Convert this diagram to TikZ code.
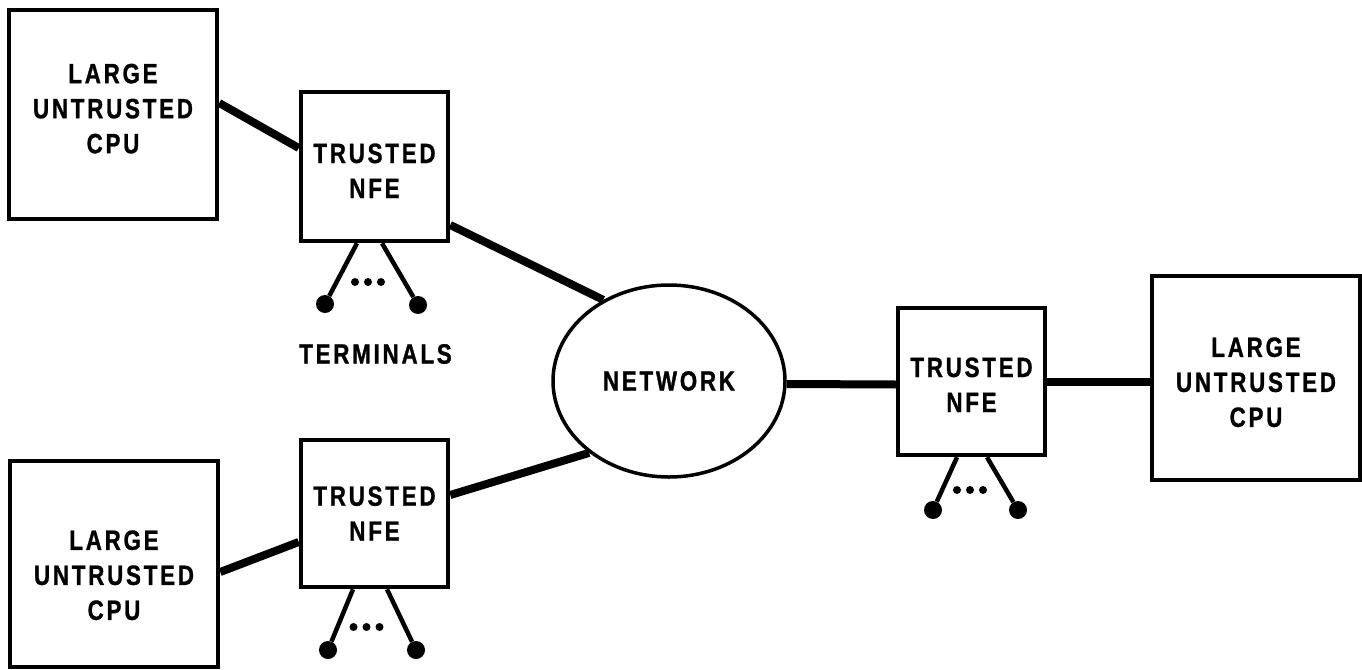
\documentclass[tikz,border=0pt]{standalone}
\usepackage{fontspec}
\newfontfamily\boxfont{Liberation Sans}[FakeStretch=0.8, LetterSpace=10, BoldFeatures={FakeBold=1}]
\usetikzlibrary{shapes,positioning}
\tikzset{
  basic/.style  = {draw, line width=4.5pt, align=center, inner sep=0pt,
                   font=\boxfont\bfseries\fontsize{27.9}{35}\selectfont},
  cpu/.style    = {basic, minimum width=208pt, minimum height=207pt},
  nfe/.style    = {basic, minimum width=147pt, minimum height=148pt},
  net/.style    = {basic, ellipse, line width=3.5pt, minimum width=232pt, minimum height=192pt},
  link/.style   = {line width=8pt},
  lead/.style   = {line width=4.5pt},
  term/.style   = {circle, fill, inner sep=0pt, minimum size=18pt},
  tag/.style    = {font=\boxfont\bfseries\fontsize{27.9}{35}\selectfont, inner sep=0pt}
}
% struts to nudge a block of lines down (first line) or up (last line)
\newcommand{\down}[1]{\rule{0pt}{#1}}
\newcommand{\up}[1]{\rule[-#1]{0pt}{#1}}

\begin{document}
\begin{tikzpicture}[x=1pt, y=-1pt]
\useasboundingbox (0,0) rectangle (1362,669);

% hosts and front ends
\node[cpu, minimum height=209pt] (cpu1) at (113,114.5)  {LARGE\\UNTRUSTED\\CPU\up{12pt}};
\node[cpu, minimum height=206pt] (cpu2) at (114,564)    {\down{42pt}LARGE\\UNTRUSTED\\CPU};
\node[cpu, minimum height=204pt] (cpu3) at (1256,378)   {\down{28pt}LARGE\\UNTRUSTED\\CPU};
\node[nfe, minimum height=149pt] (nfe1) at (374.5,166.5) {\down{28pt}TRUSTED\\NFE};
\node[nfe, minimum height=147pt] (nfe2) at (374.5,513.5) {TRUSTED\\NFE};
\node[nfe, minimum height=147pt] (nfe3) at (971.5,381.5) {\down{26pt}TRUSTED\\NFE};
\node[net] (net) at (669,381) {NETWORK};

% heavy links
\draw[link] ([yshift=11.5pt]cpu1.east) -- ([yshift=18.5pt]nfe1.west);
\draw[link] ([yshift=-58.5pt]nfe1.east) -- (net.129);
\draw[link] ([yshift=-8pt]cpu2.east) -- ([yshift=-28.5pt]nfe2.west);
\draw[link] ([yshift=18.5pt]nfe2.east) -- (net.222);
\draw[link] ([yshift=-3pt]net.east) -- ([yshift=-3pt]nfe3.west);
\draw[link] (nfe3.east) -- (nfe3.east -| cpu3.west);

% terminals hanging off each NFE
\node[term] (t1a) at (325,304) {};
\node[term] (t1b) at (418,305) {};
\node[term] (t2a) at (328,650) {};
\node[term] (t2b) at (416,650) {};
\node[term] (t3a) at (933,510) {};
\node[term] (t3b) at (1018,510) {};

\draw[lead] ([xshift=-17.5pt]nfe1.south) -- (t1a);
\draw[lead] ([xshift=7.5pt]nfe1.south) -- (t1b);
\draw[lead] ([xshift=-21.5pt]nfe2.south) -- (t2a);
\draw[lead] ([xshift=12.5pt]nfe2.south) -- (t2b);
\draw[lead] ([xshift=-14.5pt]nfe3.south) -- (t3a);
\draw[lead] ([xshift=15.5pt]nfe3.south) -- (t3b);

\foreach \x/\y in {368/282, 366.5/627, 970/490}
  \foreach \d in {-13,0,13}
    \fill (\x+\d,\y) circle (4pt);

\node[tag] (lbl) at (375.5,354) {TERMINALS};
\end{tikzpicture}
\end{document}
